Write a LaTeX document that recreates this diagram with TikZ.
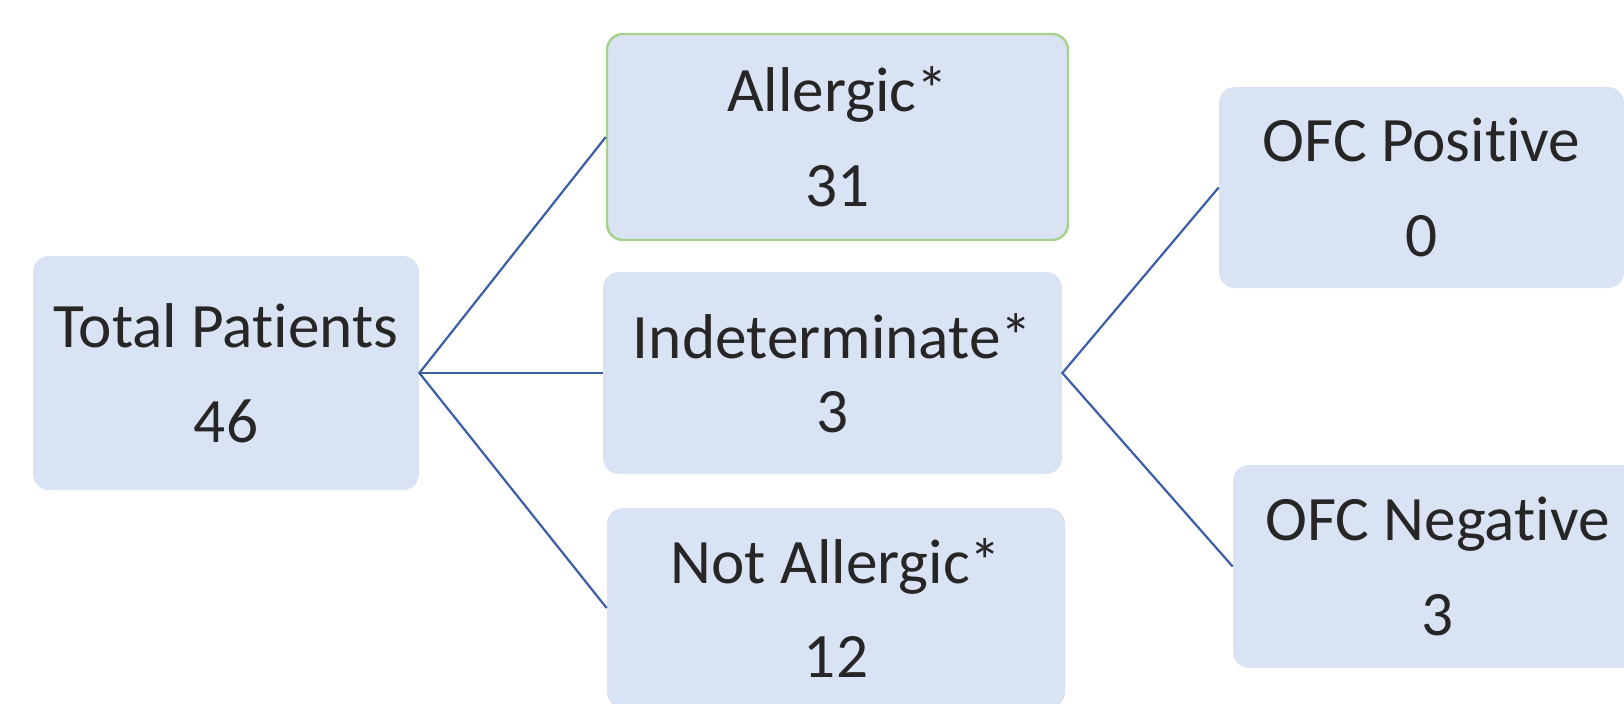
\documentclass[tikz,border=0pt]{standalone}
\usepackage{fontspec}
\setmainfont[Ligatures=NoCommon]{Carlito}
\usepackage{tikz}

\definecolor{boxfill}{HTML}{DAE3F3}
\definecolor{linkblue}{HTML}{3B5EA6}
\definecolor{okgreen}{HTML}{A9D18E}
\definecolor{textgray}{HTML}{262626}

\begin{document}
\begin{tikzpicture}[
  box/.style={fill=boxfill, rounded corners=0.32cm, inner sep=0pt,
    align=center, text=textgray, font=\fontsize{36}{54}\selectfont},
  link/.style={draw=linkblue, line width=1.25pt}
]
\useasboundingbox (0,0) rectangle (32.48,-14.06);
\clip (0,0) rectangle (32.48,-14.06);

\node[box, minimum width=7.72cm, minimum height=4.68cm] (total) at (4.52,-7.46) {Total Patients\\46};

\node[box, draw=okgreen, line width=1.4pt, minimum width=9.22cm, minimum height=4.12cm] (allergic) at (16.75,-2.74) {Allergic*\\31};
\node[box, minimum width=9.18cm, minimum height=4.04cm, font=\fontsize{36}{42}\selectfont] (indet) at (16.65,-7.46) {Indeterminate*\\3};
\node[box, minimum width=9.16cm, minimum height=4.0cm] (notall) at (16.72,-12.16) {Not Allergic*\\12};

\node[box, minimum width=8.1cm, minimum height=4.02cm] (ofcpos) at (28.43,-3.75) {OFC Positive\\0};
\node[box, minimum width=8.18cm, minimum height=4.06cm] (ofcneg) at (28.75,-11.33) {OFC Negative\\3};

\draw[link] (allergic.west) -- (total.east) -- (notall.west);
\draw[link] (total.east) -- (indet.west);
\draw[link] (ofcpos.west) -- (indet.east) -- (ofcneg.west);
\end{tikzpicture}
\end{document}
